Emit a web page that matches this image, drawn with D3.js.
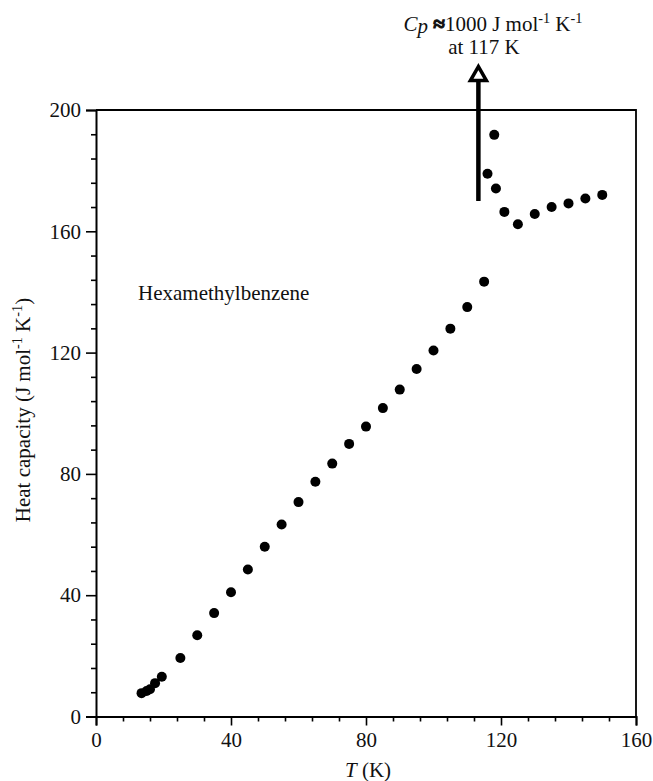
<!DOCTYPE html>
<html><head><meta charset="utf-8">
<script src="https://cdn.jsdelivr.net/npm/d3@7"></script>
<style>
body{margin:0;background:#fff;}
svg{display:block;font-family:"Liberation Serif","Times New Roman",serif;}
</style></head>
<body>
<svg id="chart" width="653" height="781"></svg>
<script>
// ---- data ----
const temperatureK = [13.5, 15, 16, 17.5, 19.5, 25, 30, 35, 40, 45, 50, 55, 60, 65, 70, 75, 80, 85, 90, 95, 100, 105, 110, 115, 116, 118, 118.5, 121, 125, 130, 135, 140, 145, 150];
const heatCapacity = [7.7, 8.4, 9.0, 11.0, 13.1, 19.3, 26.8, 34.1, 41.0, 48.5, 56.0, 63.3, 70.7, 77.4, 83.4, 89.9, 95.6, 101.7, 107.8, 114.6, 120.7, 127.9, 135.0, 143.4, 179.0, 191.8, 174.1, 166.4, 162.3, 165.7, 168.0, 169.2, 170.8, 172.0];
const xTicks = [0, 40, 80, 120, 160];
const yTicks = [0, 40, 80, 120, 160, 200];
const xMinorTicks = d3.range(0, 161, 8);
const yMinorTicks = d3.range(0, 201, 8);
const arrowT = 113.3, arrowFromC = 170, arrowToC = 215;
const compoundLabel = "Hexamethylbenzene";

// ---- layout ----
(function () {
const svg = d3.select("#chart");
const pLeft = 96, pRight = 636, pTop = 110, pBottom = 716.5;
const x = d3.scaleLinear().domain([0, 160]).range([pLeft, pRight]);
const y = d3.scaleLinear().domain([0, 200]).range([pBottom, pTop]);
const fs = 21;

// minor ticks
const xMinor = svg.append("g").attr("transform", `translate(0,${pBottom})`)
  .call(d3.axisBottom(x).tickValues(xMinorTicks.filter(v => !xTicks.includes(v))).tickSize(5).tickFormat(""));
xMinor.select(".domain").remove();
const yMinor = svg.append("g").attr("transform", `translate(${pLeft},0)`)
  .call(d3.axisLeft(y).tickValues(yMinorTicks.filter(v => !yTicks.includes(v))).tickSize(5).tickFormat(""));
yMinor.select(".domain").remove();

// major axes
const xAxis = svg.append("g").attr("transform", `translate(0,${pBottom})`)
  .call(d3.axisBottom(x).tickValues(xTicks).tickSize(9).tickPadding(6).tickFormat(d3.format("d")));
const yAxis = svg.append("g").attr("transform", `translate(${pLeft},0)`)
  .call(d3.axisLeft(y).tickValues(yTicks).tickSize(10).tickPadding(5).tickFormat(d3.format("d")));
[xAxis, yAxis, xMinor, yMinor].forEach(g => {
  g.attr("font-family", "Liberation Serif");
  g.selectAll("line").attr("stroke", "#000").attr("stroke-width", 1.6);
  g.select(".domain").attr("stroke", "#000").attr("stroke-width", 2);
  g.selectAll("text").attr("font-family", "Liberation Serif").attr("font-size", fs).attr("fill", "#111");
});
xAxis.selectAll("text").attr("dy", "0.75em");

// frame (top and right)
svg.append("path")
  .attr("d", `M${x(0)},${y(200)}H${x(160)}V${y(0)}`)
  .attr("fill", "none").attr("stroke", "#000").attr("stroke-width", 1.8);

// points
svg.append("g").selectAll("circle")
  .data(temperatureK.map((t, i) => [t, heatCapacity[i]]))
  .join("circle")
  .attr("cx", d => x(d[0])).attr("cy", d => y(d[1]))
  .attr("r", 5).attr("fill", "#000");

// arrow
const ax = x(arrowT);
const tipY = y(arrowToC);
svg.append("line")
  .attr("x1", ax).attr("x2", ax).attr("y1", y(arrowFromC)).attr("y2", tipY + 16)
  .attr("stroke", "#000").attr("stroke-width", 4.5);
svg.append("path")
  .attr("d", `M${ax},${tipY + 2}L${ax - 8},${tipY + 16}L${ax + 8},${tipY + 16}Z`)
  .attr("fill", "#fff").attr("stroke", "#000").attr("stroke-width", 3.5).attr("stroke-linejoin", "miter");

// annotation text
const ann = svg.append("text").attr("x", 493).attr("y", 31).attr("text-anchor", "middle")
  .attr("font-size", fs).attr("fill", "#111");
ann.append("tspan").attr("font-style", "italic").text("C");
ann.append("tspan").attr("font-style", "italic").attr("dy", 2).text("p");
ann.append("tspan").attr("dy", -2).attr("font-weight", "bold")
  .attr("stroke", "#111").attr("stroke-width", 1.1).text(" \u2248");
ann.append("tspan").text("1000 J mol");
ann.append("tspan").attr("font-size", fs * 0.68).attr("dy", -8).text("-1");
ann.append("tspan").attr("dy", 8).text(" K");
ann.append("tspan").attr("font-size", fs * 0.68).attr("dy", -8).text("-1");

svg.append("text").attr("x", 484).attr("y", 54).attr("text-anchor", "middle")
  .attr("font-size", fs).attr("fill", "#111").text("at 117 K");

// compound label
svg.append("text").attr("x", 138).attr("y", 300).attr("font-size", fs).attr("fill", "#111").text(compoundLabel);

// x label
const xl = svg.append("text").attr("x", 368).attr("y", 777).attr("text-anchor", "middle")
  .attr("font-size", fs).attr("fill", "#111");
xl.append("tspan").attr("font-style", "italic").text("T");
xl.append("tspan").text(" (K)");

// y label
const yl = svg.append("text").attr("transform", `translate(30,410) rotate(-90)`).attr("text-anchor", "middle")
  .attr("font-size", fs).attr("fill", "#111");
yl.append("tspan").text("Heat capacity (J mol");
yl.append("tspan").attr("font-size", fs * 0.68).attr("dy", -8).text("-1");
yl.append("tspan").attr("dy", 8).text(" K");
yl.append("tspan").attr("font-size", fs * 0.68).attr("dy", -8).text("-1");
yl.append("tspan").attr("dy", 8).text(")");
})();
</script>
</body></html>
